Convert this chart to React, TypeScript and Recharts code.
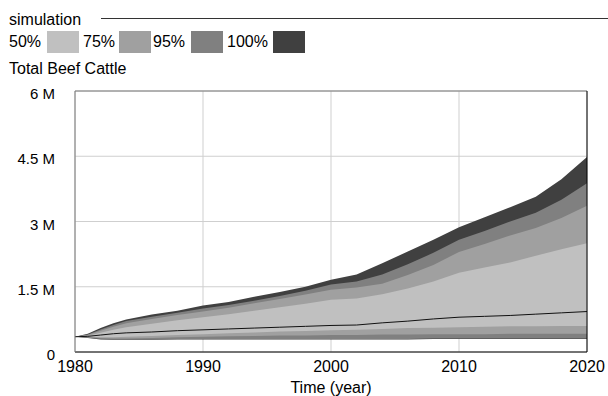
import { ComposedChart, Area, Line, XAxis, YAxis, CartesianGrid, ReferenceLine } from "recharts";

// values in millions of head
const years = [1980, 1981, 1982, 1983, 1984, 1986, 1988, 1990, 1992, 1994, 1996, 1998, 2000, 2002, 2004, 2006, 2008, 2010, 2012, 2014, 2016, 2018, 2020];

const hi100 = [0.35, 0.42, 0.55, 0.66, 0.75, 0.86, 0.95, 1.07, 1.15, 1.27, 1.38, 1.5, 1.66, 1.78, 2.04, 2.31, 2.58, 2.87, 3.1, 3.33, 3.57, 3.97, 4.48];
const lo100 = [0.35, 0.32, 0.29, 0.28, 0.28, 0.28, 0.29, 0.29, 0.29, 0.29, 0.29, 0.29, 0.29, 0.29, 0.29, 0.29, 0.3, 0.3, 0.3, 0.3, 0.3, 0.3, 0.3];
const hi95 = [0.35, 0.4, 0.52, 0.62, 0.71, 0.81, 0.9, 1.0, 1.08, 1.18, 1.29, 1.41, 1.55, 1.62, 1.78, 2.02, 2.28, 2.58, 2.78, 3.0, 3.2, 3.5, 3.88];
const lo95 = [0.35, 0.33, 0.3, 0.29, 0.29, 0.29, 0.3, 0.3, 0.3, 0.3, 0.3, 0.3, 0.3, 0.3, 0.3, 0.3, 0.31, 0.31, 0.31, 0.31, 0.31, 0.31, 0.31];
const hi75 = [0.35, 0.39, 0.49, 0.58, 0.66, 0.76, 0.85, 0.93, 1.02, 1.12, 1.22, 1.32, 1.43, 1.48, 1.57, 1.77, 2.0, 2.3, 2.48, 2.68, 2.85, 3.08, 3.36];
const lo75 = [0.35, 0.34, 0.32, 0.31, 0.31, 0.32, 0.34, 0.35, 0.36, 0.37, 0.38, 0.38, 0.39, 0.39, 0.4, 0.4, 0.41, 0.41, 0.41, 0.42, 0.42, 0.42, 0.42];
const hi50 = [0.35, 0.37, 0.44, 0.51, 0.57, 0.65, 0.73, 0.8, 0.87, 0.95, 1.03, 1.11, 1.2, 1.23, 1.33, 1.46, 1.62, 1.82, 1.94, 2.06, 2.21, 2.36, 2.5];
const lo50 = [0.35, 0.35, 0.34, 0.34, 0.35, 0.37, 0.39, 0.41, 0.43, 0.45, 0.47, 0.48, 0.5, 0.51, 0.53, 0.55, 0.56, 0.57, 0.58, 0.59, 0.59, 0.6, 0.6];
const current = [0.35, 0.36, 0.39, 0.42, 0.44, 0.46, 0.49, 0.51, 0.53, 0.55, 0.57, 0.59, 0.61, 0.62, 0.67, 0.71, 0.76, 0.8, 0.82, 0.84, 0.87, 0.9, 0.93];

const xTicks = [1980, 1990, 2000, 2010, 2020];
const yTicks = [0, 1.5, 3, 4.5, 6];

const bands = [
  { key: "p50", label: "50%", color: "#c0c0c0" },
  { key: "p75", label: "75%", color: "#a0a0a0" },
  { key: "p95", label: "95%", color: "#808080" },
  { key: "p100", label: "100%", color: "#404040" },
];

const data = years.map((year, i) => ({
  year,
  p100: [lo100[i], hi100[i]],
  p95: [lo95[i], hi95[i]],
  p75: [lo75[i], hi75[i]],
  p50: [lo50[i], hi50[i]],
  current: current[i],
}));

const font = "'Liberation Sans', Arial, sans-serif";

const XTick = ({ x, y, payload }: any) => (
  <text x={x} y={y + 20} textAnchor="middle" fontSize={16} fontFamily={font} fill="#000">
    {payload.value}
  </text>
);

const YTick = ({ x, y, payload }: any) => (
  <text x={x - 20} y={y + 8} textAnchor="end" fontSize={15} fontFamily={font} fill="#000">
    {payload.value === 0 ? "0" : `${payload.value} M`}
  </text>
);

function Header() {
  // legend swatch positions
  const items = [
    { x: 9, sx: 47 },
    { x: 83, sx: 119 },
    { x: 153, sx: 191 },
    { x: 227, sx: 273 },
  ];
  return (
    <svg width={608} height={396} style={{ position: "absolute", left: 0, top: 0, overflow: "visible" }}>
      <text x={9} y={25} fontSize={16} fontFamily={font} fill="#000">simulation</text>
      <line x1={101} x2={608} y1={18.5} y2={18.5} stroke="#333" strokeWidth={1} />
      {bands.map((b, i) => (
        <g key={b.key}>
          <text x={items[i].x} y={47} fontSize={16} fontFamily={font} fill="#000">{b.label}</text>
          <rect x={items[i].sx} y={31} width={32} height={22} fill={b.color} />
        </g>
      ))}
      <text x={9} y={74} fontSize={16} fontFamily={font} fill="#000">Total Beef Cattle</text>
      <text x={331} y={393} textAnchor="middle" fontSize={16} fontFamily={font} fill="#000">Time (year)</text>
    </svg>
  );
}

export default function App() {
  const order = [...bands].reverse();
  return (
    <div style={{ position: "absolute", left: 0, top: 0, width: 608, height: 396, background: "#fff" }}>
      <Header />
      <div style={{ position: "absolute", left: 0, top: 0 }}>
        <ComposedChart
          width={608}
          height={396}
          data={data}
          margin={{ top: 91, right: 21, bottom: 0, left: 0 }}
          style={{ overflow: "visible" }}
        >
          <CartesianGrid stroke="#cfcfcf" strokeWidth={1} />
          <XAxis
            dataKey="year"
            type="number"
            domain={[1980, 2020]}
            ticks={xTicks}
            height={44}
            tickSize={0}
            tickMargin={0}
            tickLine={false}
            axisLine={{ stroke: "#000" }}
            tick={XTick}
          />
          <YAxis
            type="number"
            domain={[0, 6]}
            ticks={yTicks}
            width={75}
            tickSize={0}
            tickMargin={0}
            tickLine={false}
            axisLine={{ stroke: "#7a7a7a" }}
            tick={YTick}
          />
          {order.map((b) => (
            <Area
              key={b.key}
              dataKey={b.key}
              type="linear"
              stroke="none"
              fill={b.color}
              fillOpacity={1}
              isAnimationActive={false}
            />
          ))}
          <Line dataKey="current" type="linear" stroke="#111" strokeWidth={1} dot={false} isAnimationActive={false} />
          <ReferenceLine y={6} stroke="#7a7a7a" />
          <ReferenceLine x={2020} stroke="#000" />
        </ComposedChart>
      </div>
    </div>
  );
}
